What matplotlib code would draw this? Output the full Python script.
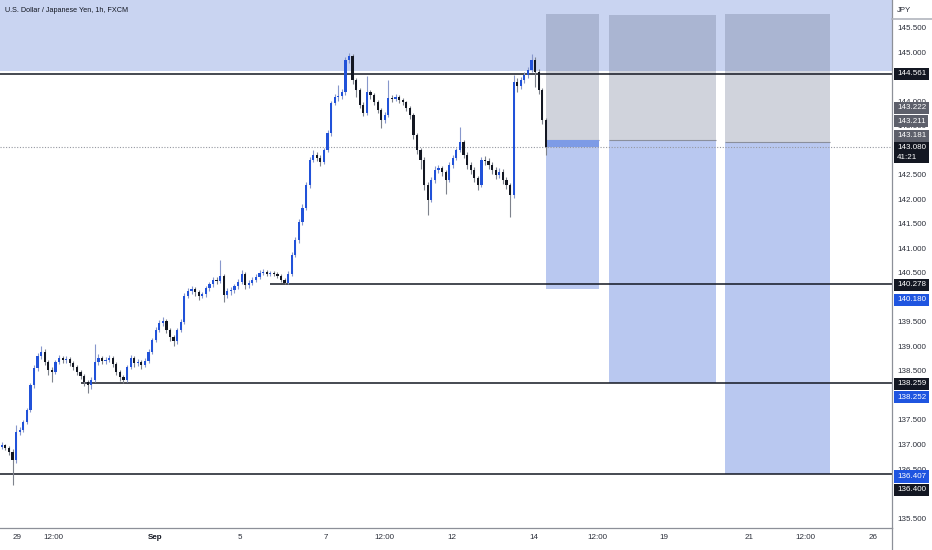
import matplotlib.pyplot as plt
from matplotlib.patches import Rectangle
from matplotlib.transforms import blended_transform_factory

# USD/JPY, FXCM, 29 Aug - 14 Sep 2022 in 2h steps
first_open = 136.95
closes = [136.99, 136.93, 136.85, 136.68, 137.26, 137.30, 137.46, 137.70, 138.21, 138.56,
          138.81, 138.89, 138.68, 138.52, 138.48, 138.68, 138.76, 138.72, 138.74, 138.66,
          138.58, 138.48, 138.40, 138.27, 138.21, 138.32, 138.68, 138.76, 138.70, 138.72,
          138.76, 138.64, 138.48, 138.38, 138.32, 138.58, 138.76, 138.66, 138.68, 138.62,
          138.70, 138.89, 139.13, 139.34, 139.48, 139.52, 139.34, 139.19, 139.11, 139.34,
          139.50, 140.03, 140.13, 140.17, 140.11, 140.03, 140.07, 140.19, 140.27, 140.36,
          140.34, 140.44, 140.05, 140.13, 140.15, 140.23, 140.32, 140.48, 140.25, 140.30,
          140.36, 140.42, 140.50, 140.52, 140.48, 140.50, 140.48, 140.44, 140.36, 140.30,
          140.48, 140.87, 141.17, 141.54, 141.83, 142.30, 142.81, 142.91, 142.85, 142.77,
          143.01, 143.36, 143.97, 144.09, 144.11, 144.19, 144.85, 144.93, 144.44, 144.23,
          143.93, 143.76, 144.19, 144.13, 143.99, 143.82, 143.62, 143.72, 144.07, 144.05,
          144.09, 144.03, 143.99, 143.87, 143.72, 143.32, 143.01, 142.81, 142.30, 141.99,
          142.40, 142.60, 142.64, 142.56, 142.40, 142.70, 142.85, 143.01, 143.17, 142.91,
          142.70, 142.60, 142.44, 142.30, 142.81, 142.78, 142.70, 142.60, 142.50, 142.56,
          142.40, 142.30, 142.09, 144.40, 144.32, 144.44, 144.54, 144.64, 144.85, 144.60,
          144.23, 143.62, 143.08]
highs = [137.05, 137.02, 136.97, 136.90, 137.40, 137.36, 137.50, 137.75, 138.25, 138.62,
         138.86, 139.00, 138.94, 138.72, 138.58, 138.72, 138.82, 138.80, 138.80, 138.78,
         138.70, 138.62, 138.52, 138.44, 138.32, 138.38, 139.05, 138.84, 138.80, 138.78,
         138.82, 138.80, 138.68, 138.52, 138.42, 138.62, 138.82, 138.80, 138.74, 138.72,
         138.76, 138.94, 139.18, 139.40, 139.55, 139.60, 139.56, 139.38, 139.24, 139.38,
         139.56, 140.10, 140.20, 140.24, 140.22, 140.15, 140.12, 140.24, 140.32, 140.42,
         140.42, 140.77, 140.48, 140.20, 140.22, 140.28, 140.38, 140.56, 140.52, 140.36,
         140.42, 140.48, 140.56, 140.58, 140.56, 140.55, 140.54, 140.52, 140.48, 140.40,
         140.54, 140.92, 141.24, 141.60, 141.90, 142.36, 142.86, 143.00, 142.96, 142.90,
         143.06, 143.42, 144.02, 144.16, 144.33, 144.26, 144.90, 144.99, 144.96, 144.48,
         144.28, 143.98, 144.52, 144.24, 144.18, 144.04, 143.86, 143.78, 144.44, 144.14,
         144.16, 144.14, 144.08, 144.02, 143.90, 143.76, 143.36, 143.06, 142.86, 142.36,
         142.46, 142.68, 142.70, 142.68, 142.60, 142.76, 142.90, 143.06, 143.48, 143.22,
         142.96, 142.76, 142.66, 142.48, 142.86, 142.88, 142.84, 142.76, 142.66, 142.64,
         142.62, 142.46, 142.34, 144.55, 144.48, 144.50, 144.60, 144.70, 144.97, 144.90,
         144.66, 144.28, 143.66]
lows = [136.90, 136.88, 136.78, 136.17, 136.62, 137.20, 137.26, 137.42, 137.66, 138.16,
        138.50, 138.74, 138.62, 138.42, 138.28, 138.44, 138.64, 138.66, 138.66, 138.60,
        138.52, 138.42, 138.34, 138.20, 138.05, 138.14, 138.28, 138.62, 138.64, 138.64,
        138.68, 138.58, 138.42, 138.30, 138.26, 138.28, 138.54, 138.58, 138.60, 138.55,
        138.58, 138.66, 138.85, 139.10, 139.30, 139.42, 139.28, 139.12, 139.02, 139.06,
        139.30, 139.46, 139.98, 140.08, 140.04, 139.95, 139.98, 140.02, 140.14, 140.22,
        140.28, 140.30, 139.90, 139.98, 140.06, 140.10, 140.18, 140.28, 140.18, 140.20,
        140.26, 140.32, 140.38, 140.46, 140.44, 140.44, 140.43, 140.40, 140.32, 140.28,
        140.27, 140.44, 140.82, 141.12, 141.48, 141.78, 142.24, 142.76, 142.78, 142.68,
        142.72, 142.96, 143.30, 143.92, 144.00, 144.05, 144.14, 144.78, 144.36, 144.10,
        143.86, 143.70, 143.72, 144.06, 143.92, 143.76, 143.46, 143.56, 143.68, 143.98,
        144.00, 143.96, 143.92, 143.80, 143.64, 143.24, 142.92, 142.62, 142.20, 141.68,
        141.94, 142.34, 142.54, 142.48, 142.12, 142.36, 142.64, 142.80, 142.96, 142.84,
        142.62, 142.52, 142.36, 142.19, 142.26, 142.70, 142.62, 142.52, 142.42, 142.44,
        142.32, 142.22, 141.65, 142.04, 144.20, 144.26, 144.38, 144.48, 144.60, 144.30,
        144.16, 143.55, 142.90]

# horizontal levels and the bar they are drawn from (-1 = left edge)
levels = [144.561, 140.278, 138.259, 136.400]
level_start = [-1, 75, 22, -1]

# supply zone on top
zone_low = 144.63
zone_high = 147.0

# three short positions (bars are 2h steps)
pos_start = [152, 169.6, 202]
pos_end = [166.8, 199.5, 231.3]
entries = [143.222, 143.211, 143.181]
stops = [145.79, 145.77, 145.79]
targets = [140.180, 138.252, 136.407]

last_price = 143.080
countdown = '41:21'

tick_pos = [4.2, 14.3, 42.8, 66.5, 90.6, 107, 125.8, 148.7, 166.3, 185, 208.7, 224.6, 243.4]
tick_text = ['29', '12:00', 'Sep', '5', '7', '12:00', '12', '14', '12:00', '19', '21', '12:00', '26']

UP = '#2152d9'
DOWN = '#131722'
UP_WICK = '#8797cc'
DOWN_WICK = '#7e828c'
TXT = '#131722'
SCALE_TXT = '#2a2e39'

plt.rcParams['font.family'] = ['Liberation Sans', 'DejaVu Sans']

fig = plt.figure(figsize=(9.32, 5.5), dpi=100)
ax = fig.add_axes([0, 22 / 550, 892 / 932, 528 / 550])
ax.set_xlim(-0.5, 248.7)
ax.set_ylim(135.296, 146.071)

# zone
ax.axhspan(zone_low, zone_high, color='#c9d4f1', lw=0, zorder=0)

# candles
n = len(closes)
xs = list(range(n))
opens = [first_open] + closes[:-1]
is_up = [c >= o for o, c in zip(opens, closes)]
cols = [UP if u else DOWN for u in is_up]
wick_cols = [UP_WICK if u else DOWN_WICK for u in is_up]
ax.vlines(xs, lows, highs, colors=wick_cols, lw=0.8, zorder=3)
bottoms = [min(o, c) for o, c in zip(opens, closes)]
heights = [max(abs(c - o), 0.02) for o, c in zip(opens, closes)]
ax.bar(xs, heights, bottom=bottoms, width=0.62, color=cols, lw=0, zorder=4)

# positions
for i, (s, e, en, st, tg) in enumerate(zip(pos_start, pos_end, entries, stops, targets)):
    ax.add_patch(Rectangle((s, en), e - s, st - en, fc='#646e8c', alpha=0.3, lw=0, zorder=1.5))
    ax.add_patch(Rectangle((s, tg), e - s, en - tg, fc='#b9c8f0', lw=0, zorder=1.5))
    ax.hlines(en, s, e, colors='#8a8f9c', lw=0.8, zorder=1.6)
    if i == 0:
        ax.add_patch(Rectangle((s, last_price), e - s, en - last_price, fc='#7d9be6',
                               lw=0, zorder=1.7))

# levels
for lv, st in zip(levels, level_start):
    ax.hlines(lv, st if st >= 0 else -0.5, 248.7, colors='#131722', lw=1.1, zorder=2.5)

ax.axhline(last_price, color='#9598a1', lw=0.8, ls=(0, (1, 1.5)), zorder=2.4)

# axes styling
for side in ['left', 'top']:
    ax.spines[side].set_visible(False)
for side in ['right', 'bottom']:
    ax.spines[side].set_color('#8d9098')
    ax.spines[side].set_linewidth(0.9)
ax.yaxis.tick_right()
ax.set_yticks([135.5 + 0.5 * k for k in range(21)])
ax.yaxis.set_major_formatter(plt.FormatStrFormatter('%.3f'))
ax.tick_params(axis='y', length=0, pad=4, labelsize=5.8, labelcolor=SCALE_TXT)
ax.set_xticks(tick_pos, tick_text)
ax.tick_params(axis='x', length=0, pad=4, labelsize=5.8, labelcolor=SCALE_TXT)
for lab in ax.get_xticklabels():
    if lab.get_text() == 'Sep':
        lab.set_fontweight('bold')
        lab.set_color(TXT)

# price tags on the scale
trans = blended_transform_factory(ax.transAxes, ax.transData)


def price_tag(value, text, bg, dy):
    ax.annotate(text, xy=(1, value), xycoords=trans, xytext=(5, dy),
                textcoords='offset pixels', ha='left', va='center', fontsize=5.8,
                color='white', linespacing=1.45,
                bbox=dict(boxstyle='square,pad=0.32', fc=bg, ec='none'),
                annotation_clip=False, zorder=10)


price_tag(levels[0], '%.3f' % levels[0], '#131722', 0)
price_tag(entries[0], '%.3f' % entries[0], '#5d606b', 32)
price_tag(entries[1], '%.3f' % entries[1], '#5d606b', 19)
price_tag(entries[2], '%.3f' % entries[2], '#5d606b', 6)
price_tag(last_price, '%.3f\n%s' % (last_price, countdown), '#131722', -6)
price_tag(levels[1], '%.3f' % levels[1], '#131722', -1)
price_tag(targets[0], '%.3f' % targets[0], '#1f55e0', -11)
price_tag(levels[2], '%.3f' % levels[2], '#131722', -1)
price_tag(targets[1], '%.3f' % targets[1], '#1f55e0', -14)
price_tag(targets[2], '%.3f' % targets[2], '#1f55e0', -3)
price_tag(levels[3], '%.3f' % levels[3], '#131722', -16)

# header and scale caption
fig.text(5 / 932, 1 - 11 / 550, 'U.S. Dollar / Japanese Yen, 1h, FXCM', fontsize=5.2,
         color=TXT, va='center', ha='left')
fig.text(897 / 932, 1 - 10 / 550, 'JPY', fontsize=5.6, color=SCALE_TXT, va='center', ha='left')
fig.add_artist(plt.Line2D([892 / 932, 1], [1 - 19 / 550] * 2, color='#b2b5be', lw=1.2))
fig.add_artist(plt.Line2D([892 / 932] * 2, [0, 22 / 550], color='#8d9098', lw=0.9))

fig.savefig('out.png', dpi=100)
